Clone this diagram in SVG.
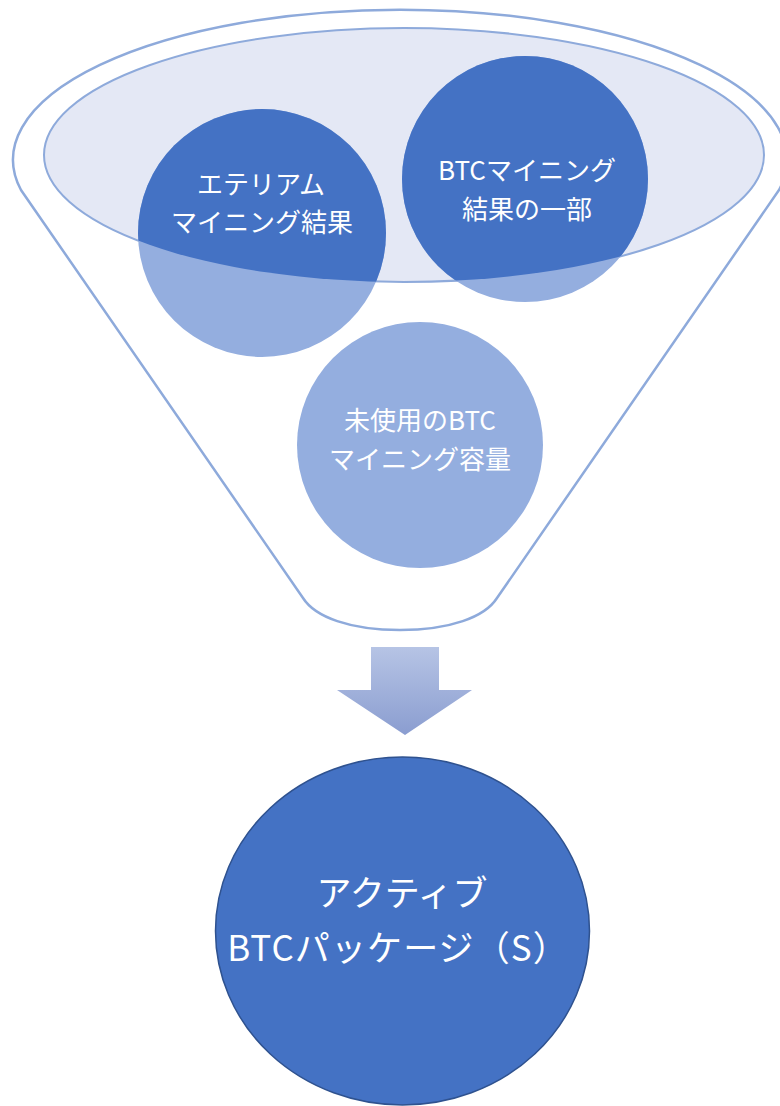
<svg xmlns="http://www.w3.org/2000/svg" width="780" height="1106" viewBox="0 0 780 1106">
<style>
.lbl{font-family:"Noto Sans CJK JP","Noto Sans",sans-serif;fill:#ffffff;text-anchor:middle;font-size:26px}
.big{font-size:35px}
.light{fill:#94aedf}
.dark{fill:#4472c4}
</style>
<defs>
<clipPath id="bowl"><ellipse cx="404" cy="155" rx="360" ry="127"/></clipPath>
<linearGradient id="arrowGrad" x1="0" y1="0" x2="0" y2="1">
<stop offset="0" stop-color="#b6c4e5"/>
<stop offset="1" stop-color="#8a9dd0"/>
</linearGradient>
</defs>
<rect width="780" height="1106" fill="#ffffff"/>
<g id="funnel">
<path d="M21,190 A387,150 0 1 1 779,190 L497,598 C485,617 450,630 400,630 C350,630 315,617 303,598 Z" fill="#ffffff" stroke="#8eaadb" stroke-width="2.5"/>
<ellipse cx="404" cy="155" rx="360" ry="127" fill="#e4e8f5" stroke="#8eaadb" stroke-width="2"/>
</g>
<g id="node-ethereum">
<circle class="light" cx="262" cy="233" r="124"/>
<circle class="dark" cx="262" cy="233" r="124" clip-path="url(#bowl)"/>
<text class="lbl" x="261" y="194">エテリアム</text>
<text class="lbl" x="262" y="232">マイニング結果</text>
</g>
<g id="node-btc-part">
<circle class="light" cx="525" cy="179" r="123"/>
<circle class="dark" cx="525" cy="179" r="123" clip-path="url(#bowl)"/>
<text class="lbl" x="527" y="180">BTCマイニング</text>
<text class="lbl" x="527" y="219">結果の一部</text>
</g>
<g id="node-unused">
<circle class="light" cx="420" cy="445" r="123"/>
<text class="lbl" x="420" y="430">未使用のBTC</text>
<text class="lbl" x="420" y="469">マイニング容量</text>
</g>
<g id="connectors">
<path d="M371,647 H439 V690 H472 L405,735 L337,690 H371 Z" fill="url(#arrowGrad)"/>
</g>
<g id="node-active">
<ellipse cx="402.5" cy="931" rx="187" ry="174" fill="#4472c4" stroke="#2f528f" stroke-width="1.5"/>
<text class="lbl big" x="402" y="906">アクティブ</text>
<text class="lbl big" x="398" y="961" letter-spacing="1.1">BTCパッケージ（S）</text>
</g>
</svg>
